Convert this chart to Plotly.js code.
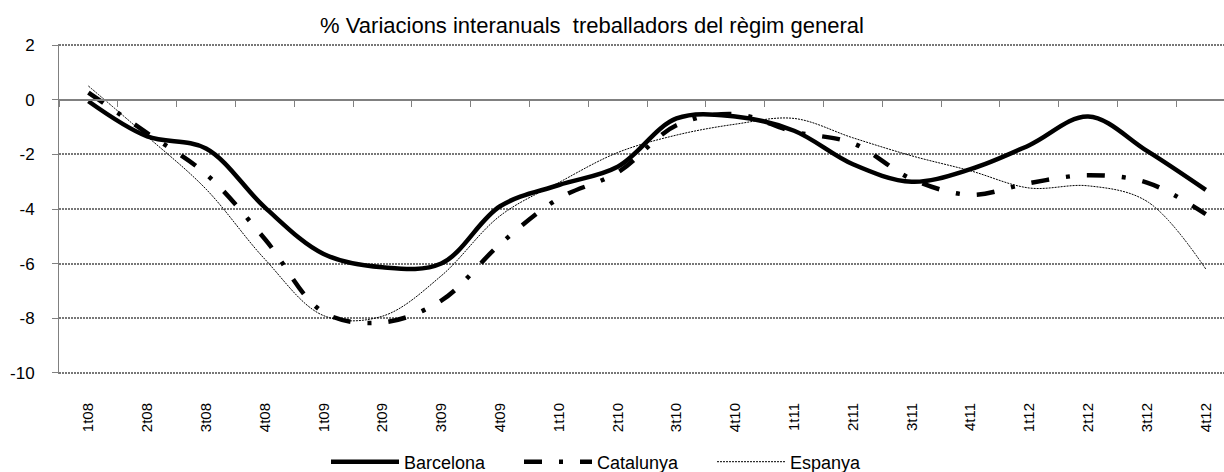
<!DOCTYPE html>
<html>
<head>
<meta charset="utf-8">
<script src="https://cdn.plot.ly/plotly-3.0.1.min.js"></script>
<style>
html,body{margin:0;padding:0;background:#fff;overflow:hidden;}
#chart{width:1224px;height:472px;}
</style>
</head>
<body>
<div id="chart"></div>
<script>
const categories = ["1t08","2t08","3t08","4t08","1t09","2t09","3t09","4t09","1t10","2t10","3t10","4t10","1t11","2t11","3t11","4t11","1t12","2t12","3t12","4t12"];
const barcelona = [-0.05,-1.34,-1.78,-3.94,-5.65,-6.14,-6.0,-3.9,-3.12,-2.45,-0.68,-0.61,-1.13,-2.36,-3.0,-2.54,-1.66,-0.61,-1.87,-3.3];
const catalunya = [0.27,-1.22,-2.72,-5.1,-7.79,-8.16,-7.36,-5.29,-3.61,-2.66,-0.93,-0.52,-1.17,-1.59,-2.9,-3.48,-3.05,-2.76,-3.03,-4.19];
const espanya = [0.51,-1.34,-3.27,-5.84,-7.91,-7.93,-6.45,-4.25,-3.03,-1.93,-1.29,-0.89,-0.68,-1.39,-2.05,-2.6,-3.23,-3.15,-3.72,-6.2];
const yTicks = [-10,-8,-6,-4,-2,0,2];
const titleText = "% Variacions interanuals  treballadors del règim general";

const FONT = "Liberation Sans, Arial, sans-serif";

const traces = [
  {x: categories, y: barcelona, name: "Barcelona", type: "scatter", mode: "lines",
   line: {color: "#000", width: 4.5, shape: "spline", smoothing: 1}, hoverinfo: "skip"},
  {x: categories, y: catalunya, name: "Catalunya", type: "scatter", mode: "lines",
   line: {color: "#000", width: 4.5, shape: "spline", smoothing: 1, dash: "18px,17px,4px,17px"}, hoverinfo: "skip"},
  {x: categories, y: espanya, name: "Espanya", type: "scatter", mode: "lines",
   line: {color: "#000", width: 1, shape: "spline", smoothing: 1, dash: "2px,1px"}, hoverinfo: "skip"},
  {x: categories, y: barcelona, xaxis: "x2", type: "scatter", mode: "lines", opacity: 0,
   showlegend: false, hoverinfo: "skip", line: {width: 1}}
];

const xRange = [-0.5, 19.31];
const yRange = [-10.05, 2.05];

const layout = {
  width: 1224, height: 472,
  margin: {l: 59, r: 0, t: 44.3, b: 97.9, pad: 0},
  paper_bgcolor: "#fff", plot_bgcolor: "#fff",
  font: {family: FONT, color: "#000", size: 14},
  showlegend: true,
  title: {text: titleText, font: {family: FONT, size: 22, color: "#000"},
          xref: "container", yref: "container", x: 592/1224, y: 1 - 25/472,
          xanchor: "center", yanchor: "middle"},
  xaxis: {type: "category", categoryorder: "array", categoryarray: categories,
          range: xRange, showgrid: false, zeroline: false, showline: false,
          ticks: "", tickangle: -90, tickfont: {family: FONT, size: 15, color: "#000"},
          ticklabelstandoff: 25, fixedrange: true},
  xaxis2: {type: "category", categoryorder: "array", categoryarray: categories,
           range: xRange, overlaying: "x", anchor: "free", position: 10.05/12.1, side: "bottom",
           showgrid: false, zeroline: false, showline: true, linecolor: "#808080", linewidth: 2,
           ticks: "outside", ticklen: 6, tickcolor: "#808080", tickwidth: 1,
           tickson: "boundaries", showticklabels: false, fixedrange: true},
  yaxis: {range: yRange, tickvals: yTicks, ticktext: yTicks.map(String),
          showgrid: true, gridcolor: "#777777", gridwidth: 2, griddash: "2px,1px",
          zeroline: true, zerolinecolor: "#808080", zerolinewidth: 2,
          showline: true, linecolor: "#808080", linewidth: 1,
          ticks: "outside", ticklen: 6, tickcolor: "#808080",
          tickfont: {family: FONT, size: 17, color: "#000"}, ticklabelstandoff: 14,
          fixedrange: true},
  legend: {orientation: "h", xref: "paper", yref: "container",
           x: (326 - 59)/1165, y: 10/472, xanchor: "left", yanchor: "middle",
           font: {family: FONT, size: 18, color: "#000"}, itemwidth: 68,
           bgcolor: "rgba(0,0,0,0)", borderwidth: 0, entrywidth: 110, traceorder: "normal"}
};

Plotly.newPlot("chart", traces, layout, {displayModeBar: false, staticPlot: true});
</script>
</body>
</html>
